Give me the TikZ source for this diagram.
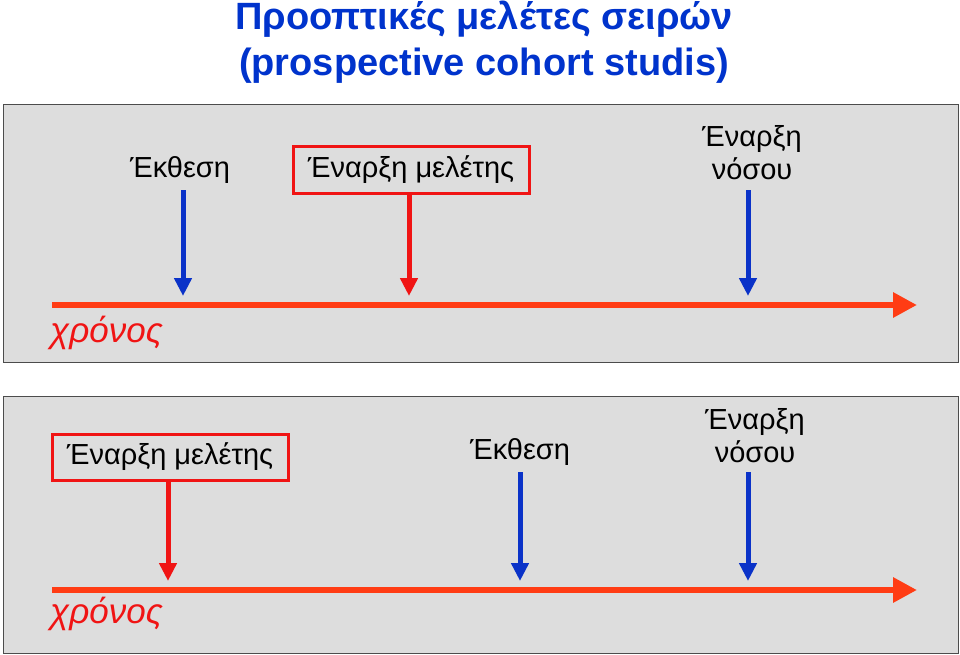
\documentclass[tikz,border=0pt]{standalone}
\usepackage{fontspec}
\setmainfont{Liberation Sans}
\usetikzlibrary{arrows.meta}
\definecolor{tblue}{RGB}{0,51,204}
\definecolor{ablue}{RGB}{10,50,200}
\definecolor{ared}{RGB}{240,20,20}
\definecolor{axis}{RGB}{255,60,20}
\definecolor{panel}{RGB}{221,221,221}
\begin{document}
\begin{tikzpicture}[x=1pt,y=-1pt,
 lbl/.style={font=\fontsize{29}{33}\selectfont, align=center, inner sep=2pt},
 redbox/.style={lbl, draw=ared, line width=3pt, minimum width=236pt, minimum height=46pt},
 barrow/.style={draw=ablue, line width=5pt, -{Triangle[length=18pt,width=17pt]}},
 rarrow/.style={draw=ared, line width=5pt, -{Triangle[length=18pt,width=17pt]}},
 axarrow/.style={draw=axis, line width=6pt, -{Triangle[length=24pt,width=24pt]}},
 time/.style={font=\fontsize{35}{37}\selectfont\itshape, text=ared, anchor=west, inner sep=0pt},
 pan/.style={draw=black!70, fill=panel, line width=1pt}]
\useasboundingbox (0,0) rectangle (960,655);
\node[font=\bfseries\fontsize{38}{46}\selectfont, text=tblue, align=center] (title) at (484,42) {Προοπτικές μελέτες σειρών\\(prospective cohort studis)};
% panel 1
\draw[pan] (3,105) rectangle (958,362);
\node[lbl] (e1) at (180,170) {Έκθεση};
\node[redbox] (s1) at (411,170) {Έναρξη μελέτης};
\node[lbl] (d1) at (752,153) {Έναρξη\\νόσου};
\coordinate (a1s) at (52,305); \coordinate (a1e) at (917,305);
\draw[barrow] (183,190) -- (183,296);
\draw[rarrow] (409,193) -- (409,296);
\draw[barrow] (748,190) -- (748,296);
\draw[axarrow] (a1s) -- (a1e);
\node[time] (t1) at (50,333) {χρόνος};
% panel 2
\draw[pan] (3,396) rectangle (958,653);
\node[redbox] (s2) at (170,457) {Έναρξη μελέτης};
\node[lbl] (e2) at (520,452) {Έκθεση};
\node[lbl] (d2) at (755,436) {Έναρξη\\νόσου};
\coordinate (a2s) at (52,590); \coordinate (a2e) at (917,590);
\draw[rarrow] (168,480) -- (168,581);
\draw[barrow] (520,472) -- (520,581);
\draw[barrow] (748,472) -- (748,581);
\draw[axarrow] (a2s) -- (a2e);
\node[time] (t2) at (50,614) {χρόνος};
\end{tikzpicture}
\end{document}
